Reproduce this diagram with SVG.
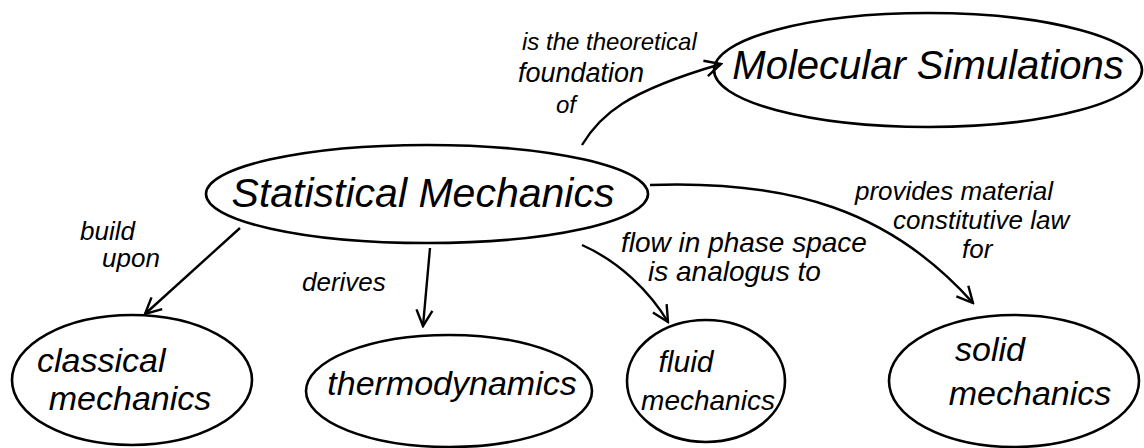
<svg xmlns="http://www.w3.org/2000/svg" width="1144" height="448" viewBox="0 0 1144 448">
<defs>
<marker id="arr" viewBox="0 0 20 20" refX="18" refY="10" markerWidth="20" markerHeight="20" markerUnits="userSpaceOnUse" orient="auto">
<path d="M2,2 L18,10 L2,18" fill="none" stroke="#000" stroke-width="2.4"/>
</marker>
<style>
.n{fill:none;stroke:#000;stroke-width:2.6}
.c{fill:none;stroke:#000;stroke-width:2.4;marker-end:url(#arr)}
text{font-family:"Liberation Sans","DejaVu Sans",sans-serif;fill:#000;font-style:italic}
.t{font-size:34px;text-anchor:middle}
.l{font-size:24px}
</style>
</defs>
<rect width="1144" height="448" fill="#fff"/>
<g id="connectors">
<path class="c" d="M582,145 C600,115 625,92 721,64"/>
<path class="c" d="M240,228 L145,314"/>
<path class="c" d="M430,248 L423,326"/>
<path class="c" d="M582,245 C620,262 650,292 668,322"/>
<path class="c" d="M650,185 C790,180 890,210 973,303"/>
<text class="l" x="522" y="50">is the theoretical</text>
<text class="l" x="518" y="82" style="font-size:27px">foundation</text>
<text class="l" x="556" y="113">of</text>
<text class="l" x="80" y="240" style="font-size:26px">build</text>
<text class="l" x="102" y="267" style="font-size:26px">upon</text>
<text class="l" x="302" y="291" style="font-size:26px">derives</text>
<text class="l" x="621" y="252" style="font-size:28px">flow in phase space</text>
<text class="l" x="648" y="281" style="font-size:28px">is analogus to</text>
<text class="l" x="855" y="200" style="font-size:26px">provides material</text>
<text class="l" x="893" y="229" style="font-size:26px">constitutive law</text>
<text class="l" x="962" y="258" style="font-size:26px">for</text>
</g>
<g id="molecular-simulations">
<ellipse class="n" cx="928" cy="70" rx="214" ry="57"/>
<text class="t" x="928" y="79" style="font-size:40px">Molecular Simulations</text>
</g>
<g id="statistical-mechanics">
<ellipse class="n" cx="427" cy="194" rx="221" ry="49"/>
<text class="t" x="423" y="207" style="font-size:41px">Statistical Mechanics</text>
</g>
<g id="classical-mechanics">
<ellipse class="n" cx="132" cy="380" rx="120" ry="65"/>
<text class="t" x="37" y="372" style="text-anchor:start">classical</text>
<text class="t" x="130" y="410">mechanics</text>
</g>
<g id="thermodynamics">
<ellipse class="n" cx="449" cy="391" rx="143" ry="56"/>
<text class="t" x="452" y="395">thermodynamics</text>
</g>
<g id="fluid-mechanics">
<ellipse class="n" cx="706" cy="381" rx="79" ry="61"/>
<text class="t" x="686" y="372" style="font-size:30px">fluid</text>
<text class="t" x="708" y="410" style="font-size:28px">mechanics</text>
</g>
<g id="solid-mechanics">
<ellipse class="n" cx="1014" cy="381" rx="125" ry="66"/>
<text class="t" x="990" y="361">solid</text>
<text class="t" x="1030" y="405">mechanics</text>
</g>
</svg>
